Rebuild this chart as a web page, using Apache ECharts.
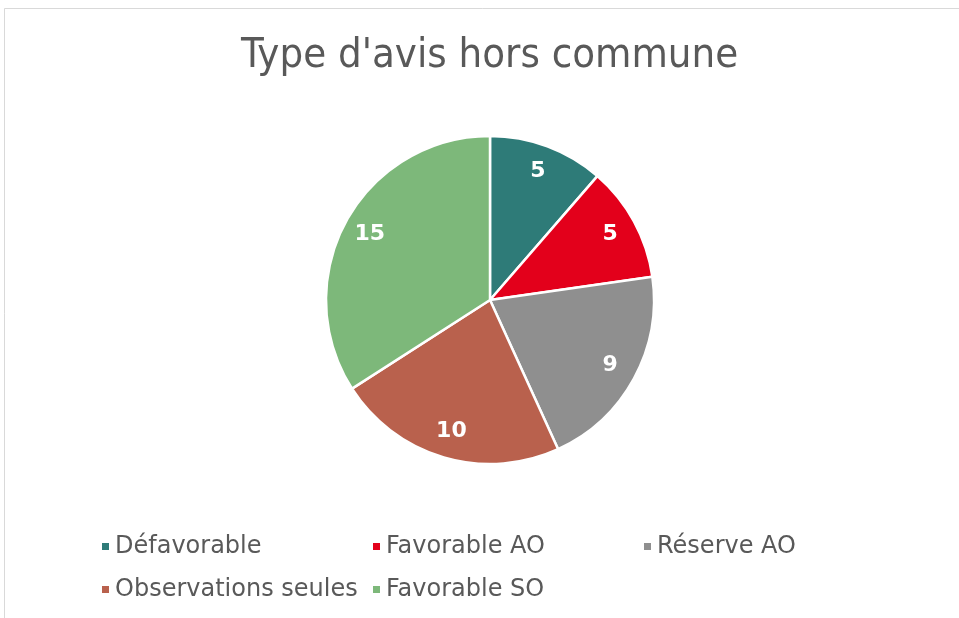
<!DOCTYPE html>
<html><head><meta charset="utf-8">
<script src="https://cdn.jsdelivr.net/npm/echarts@6/dist/echarts.min.js"></script>
<style>html,body{margin:0;padding:0;background:#fff}#c{width:959px;height:618px}</style>
</head><body><div id="c"></div>
<script>
const titleText = "Type d'avis hors commune";
const categories = ["Défavorable", "Favorable AO", "Réserve AO", "Observations seules", "Favorable SO"];
const values = [5, 5, 9, 10, 15];
const colors = ["#2e7b78", "#e3001b", "#8f8f8f", "#b9614d", "#7db87a"];

const data = categories.map((n, i) => ({ name: n, value: values[i], itemStyle: { color: colors[i] } }));
const chart = echarts.init(document.getElementById('c'), null, { renderer: 'canvas' });
chart.setOption({
  animation: false,
  backgroundColor: '#fff',
  graphic: [{ type: 'rect', shape: { x: 4.5, y: 8.5, width: 1000, height: 700 }, style: { fill: 'none', stroke: '#d9d9d9', lineWidth: 1 }, silent: true }],
  title: {
    text: titleText, left: 241, top: 35, padding: 0,
    textStyle: { fontFamily: 'DejaVu Sans Condensed', fontWeight: 'normal', fontSize: 41.5, color: '#595959' }
  },
  legend: {
    left: 100, top: 531, width: 830, padding: 0,
    itemWidth: 9, itemHeight: 9, itemGap: 12,
    icon: 'rect',
    data: categories,
    textStyle: { fontFamily: 'DejaVu Sans', fontSize: 24, color: '#595959', width: 244, lineHeight: 31 }
  },
  series: [
    {
      type: 'pie', center: [490, 300], radius: [0, 164], startAngle: 90, clockwise: true,
      data: data,
      itemStyle: { borderColor: '#fff', borderWidth: 2.5 },
      label: { show: false }, labelLine: { show: false }, silent: true
    },
    {
      type: 'pie', center: [490, 300], radius: [104, 164], startAngle: 90, clockwise: true,
      data: categories.map((n, i) => ({ name: n, value: values[i] })),
      itemStyle: { color: 'rgba(0,0,0,0)' },
      label: { show: true, position: 'inside', formatter: '{c}', color: '#fff', fontFamily: 'DejaVu Sans', fontWeight: 'bold', fontSize: 22 },
      labelLine: { show: false }, silent: true
    }
  ]
});
</script></body></html>
